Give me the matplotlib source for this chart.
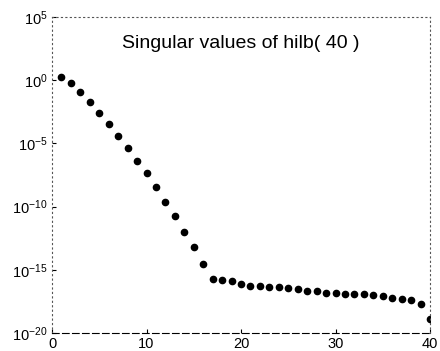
import numpy as np
import matplotlib
matplotlib.use("Agg")
import matplotlib.pyplot as plt

plt.rcParams["font.family"] = ["Liberation Sans", "DejaVu Sans"]
plt.rcParams["mathtext.fontset"] = "custom"
plt.rcParams["mathtext.rm"] = "Liberation Sans"
plt.rcParams["mathtext.it"] = "Liberation Sans"
plt.rcParams["axes.unicode_minus"] = False

# singular value index
k = list(range(1, 41))
# log10 of singular values
log_sv = [0.25, -0.22, -0.93, -1.70, -2.57, -3.47, -4.39, -5.34, -6.39, -7.37,
          -8.47, -9.66, -10.77, -11.98, -13.22, -14.52, -15.70, -15.83, -15.89, -16.10,
          -16.28, -16.28, -16.34, -16.34, -16.47, -16.55, -16.66, -16.66, -16.82, -16.87,
          -16.91, -16.91, -16.91, -17.02, -17.07, -17.21, -17.33, -17.39, -17.71, -18.92]
sv = [10.0 ** v for v in log_sv]

yticks = [1e-20, 1e-15, 1e-10, 1e-5, 1e0, 1e5]
ytick_labels = ["$10^{-20}$", "$10^{-15}$", "$10^{-10}$", "$10^{-5}$", "$10^{0}$", "$10^{5}$"]
xticks = [0, 10, 20, 30, 40]

fig = plt.figure(figsize=(4.4, 3.51), dpi=100)
ax = fig.add_axes([52 / 440, 1 - 333 / 351, 378 / 440, 316 / 351])

ax.semilogy(k, sv, "o", color="black", markersize=4.5)

ax.set_xlim(0, 40)
ax.set_ylim(1e-20, 1e5)
ax.set_xticks(xticks)
ax.set_yticks(yticks)
ax.set_yticklabels(ytick_labels)
ax.minorticks_off()
ax.tick_params(direction="in", length=3, labelsize=10.5, pad=3)

for side in ["top", "left", "right"]:
    ax.spines[side].set_linestyle((0, (1, 3)))
    ax.spines[side].set_color("#555555")
ax.spines["bottom"].set_linestyle((0, (6, 3)))

ax.text(0.5, 0.915, "Singular values of hilb( 40 )", transform=ax.transAxes,
        ha="center", va="center", fontsize=14)

fig.savefig("out.png", dpi=100)
